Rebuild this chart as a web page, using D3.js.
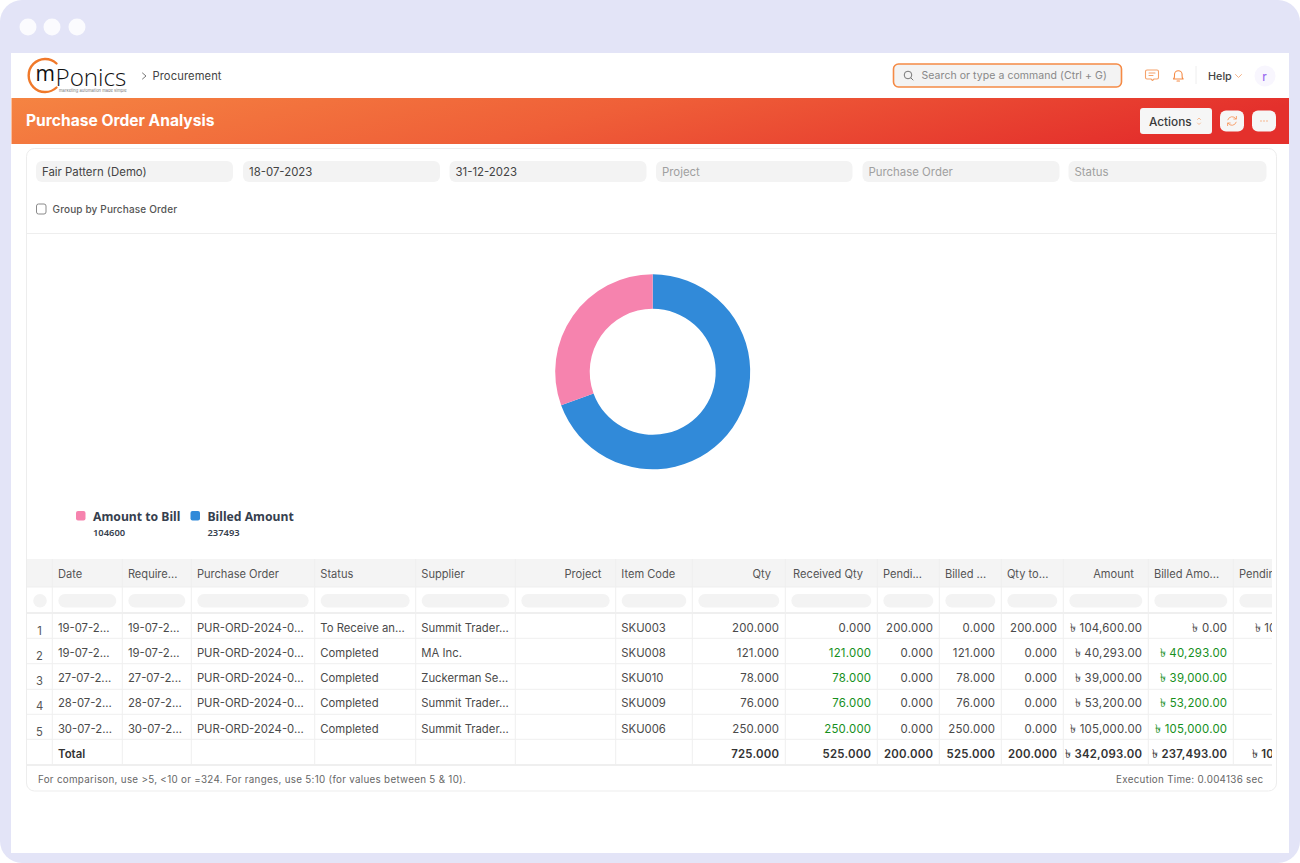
<!DOCTYPE html>
<html><head><meta charset="utf-8">
<script src="https://cdn.jsdelivr.net/npm/d3@7"></script>
<style>html,body{margin:0;padding:0;background:#fff;overflow:hidden}svg{display:block}text{font-family:Inter,"Noto Sans",sans-serif}</style>
</head><body><svg id="c" width="1300" height="863"></svg>
<script>
// ---- data ----
const legendLabels = ["Amount to Bill", "Billed Amount"];
const legendValues = [104600, 237493];
const pieColors = ["#f683ae", "#318ad9"];
const filterTexts = ["Fair Pattern (Demo)", "18-07-2023", "31-12-2023", "Project", "Purchase Order", "Status"];
const headers = ["", "Date", "Require...", "Purchase Order", "Status", "Supplier", "Project", "Item Code", "Qty", "Received Qty", "Pendi...", "Billed ...", "Qty to...", "Amount", "Billed Amo...", "Pendin"];
const rowIds = ["1", "2", "3", "4", "5"];
const dates = ["19-07-2...", "19-07-2...", "27-07-2...", "28-07-2...", "30-07-2..."];
const required = ["19-07-2...", "19-07-2...", "27-07-2...", "28-07-2...", "30-07-2..."];
const orders = ["PUR-ORD-2024-0...", "PUR-ORD-2024-0...", "PUR-ORD-2024-0...", "PUR-ORD-2024-0...", "PUR-ORD-2024-0..."];
const statuses = ["To Receive an...", "Completed", "Completed", "Completed", "Completed"];
const suppliers = ["Summit Trader...", "MA Inc.", "Zuckerman Se...", "Summit Trader...", "Summit Trader..."];
const projects = ["", "", "", "", ""];
const items = ["SKU003", "SKU008", "SKU010", "SKU009", "SKU006"];
const qty = [200, 121, 78, 76, 250];
const receivedQty = [0, 121, 78, 76, 250];
const pendingQty = [200, 0, 0, 0, 0];
const billedQty = [0, 121, 78, 76, 250];
const qtyToBill = [200, 0, 0, 0, 0];
const amount = [104600, 40293, 39000, 53200, 105000];
const billedAmount = [0, 40293, 39000, 53200, 105000];
const pendingAmount = [104600, 0, 0, 0, 0];
const totalsQty = [725, 525, 200, 525, 200];
const totalsAmount = [342093, 237493, 104600];

// ---- layout ----
const svg = d3.select("#c");
const defs = svg.append("defs");
const grad = defs.append("linearGradient").attr("id","banner").attr("x1","0").attr("x2","1").attr("y1","0").attr("y2","0.15");
grad.append("stop").attr("offset","0").attr("stop-color","#f58442");
grad.append("stop").attr("offset","0.5").attr("stop-color","#ef5f38");
grad.append("stop").attr("offset","1").attr("stop-color","#e4302c");
defs.append("clipPath").attr("id","tbl").append("rect").attr("x",27).attr("y",559).attr("width",1245).attr("height",207);

function rect(x,y,w,h,fill,r,stroke,sw){const s=svg.append("rect").attr("x",x).attr("y",y).attr("width",w).attr("height",h).attr("fill",fill||"none");if(r)s.attr("rx",r);if(stroke)s.attr("stroke",stroke).attr("stroke-width",sw||1);return s;}
function text(x,y,t,size,fill,weight,anchor,parent){return (parent||svg).append("text").attr("x",x).attr("y",y).text(t).attr("font-size",size).attr("fill",fill).attr("font-weight",weight||400).attr("text-anchor",anchor||"start");}
function line(x1,y1,x2,y2,c,w,parent){return (parent||svg).append("line").attr("x1",x1).attr("y1",y1).attr("x2",x2).attr("y2",y2).attr("stroke",c).attr("stroke-width",w||1);}
function path(d,c,w,fill){return svg.append("path").attr("d",d).attr("fill",fill||"none").attr("stroke",c).attr("stroke-width",w||1).attr("stroke-linecap","round").attr("stroke-linejoin","round");}

// window frame
rect(0,0,1300,863,"#e3e4f7",22);
[28,52,77].forEach(x=>svg.append("circle").attr("cx",x).attr("cy",27).attr("r",8.5).attr("fill","#fbfbfe"));
rect(11,53,1278,800,"#fff");

// navbar
path("M56.5,63.5 A16.5,16.5 0 1 0 56.5,87.5","#f0792a",2.4);
text(35.5,81,"m",21,"#111",400).style("font-family","'Open Sans'");
text(55.5,86,"Ponics",24.2,"#111",300).style("font-family","'Open Sans'");
text(59,91.6,"marketing automation made simple",4.1,"#777",400);
path("M142.5,73 L146,76 L142.5,79","#777",1);
text(152.5,80,"Procurement",11.2,"#444",400).attr("letter-spacing",0.1);
rect(893.5,64,228,23,"#f3f3f3",5,"#f58a45",1.6);
svg.append("circle").attr("cx",908).attr("cy",75).attr("r",3.8).attr("fill","none").attr("stroke","#777").attr("stroke-width",1);
path("M911,78 L913,80","#777",1);
text(921.5,79,"Search or type a command (Ctrl + G)",10.5,"#888",400).attr("letter-spacing",0.06);
path("M1147,70 h10 a1.5,1.5 0 0 1 1.5,1.5 v6 a1.5,1.5 0 0 1 -1.5,1.5 h-3 l-1.5,1.5 l-1.5,-1.5 h-4 a1.5,1.5 0 0 1 -1.5,-1.5 v-6 a1.5,1.5 0 0 1 1.5,-1.5 z M1149,73 h6 M1149,75.5 h4","#f5a26a",1.1);
path("M1173.5,79 c1.5,-1.5 1,-3 1,-4.5 a3.8,3.8 0 0 1 7.6,0 c0,1.5 -0.5,3 1,4.5 z M1177,81 h2.5","#f58a45",1.1);
line(1196,66,1196,84,"#eeeeee",1);
text(1208,79.5,"Help",10.8,"#444",500);
path("M1235.5,74.5 L1238.5,77.5 L1241.5,74.5","#f5b48a",1);
svg.append("circle").attr("cx",1265).attr("cy",76).attr("r",10.5).attr("fill","#f8f6fe");
text(1264.5,80.5,"r",11.5,"#9a6cf0",500,"middle");

// banner
rect(11.5,98,1277.5,46,"url(#banner)");
text(26,126,"Purchase Order Analysis",15.6,"#fff",700);
rect(1140,108,72,26,"#f6f6f6",3);
text(1149,125.5,"Actions",11.8,"#3a3a3a",500);
path("M1197.5,119.5 L1199,118 L1200.5,119.5 M1197.5,123 L1199,124.5 L1200.5,123","#f5b48a",0.9);
rect(1220,110.5,24,21,"#f6f6f6",6);
path("M1227.8,119.8 a4.6,4.6 0 0 1 8.2,-1 M1236.2,122.2 a4.6,4.6 0 0 1 -8.2,1 M1236.4,116.4 v2.6 h-2.6 M1227.6,125.6 v-2.6 h2.6","#f79a62",0.9);
rect(1252,110.5,24,21,"#f6f6f6",6);
[1261,1264,1267].forEach(x=>svg.append("circle").attr("cx",x).attr("cy",121).attr("r",0.7).attr("fill","#f5a26a"));

// card
rect(26.5,148.5,1250,642.5,"#fff",8,"#ededed",1);
const fx = [36,243,449.5,656,862.5,1068.5], fw = [197,197,197,196.5,197,198];
filterTexts.forEach((t,i)=>{
  rect(fx[i],161,fw[i],21,"#f3f3f3",6);
  text(fx[i]+6,176,t,11.4,i<3?"#444":"#a0a0a0",400);
});
rect(36.5,204,9.5,10,"#fff",2,"#8a8a8a",1);
text(52.5,212.5,"Group by Purchase Order",10,"#555",500).attr("letter-spacing",0.15);
line(27,233.5,1276,233.5,"#eeeeee",1);

// donut
const pieOrder = [1,0];
const pie = d3.pie().sort(null).value(i=>legendValues[i])(pieOrder);
const arc = d3.arc().innerRadius(63).outerRadius(97.5);
svg.append("g").attr("transform","translate(652.7,371.8)").selectAll("path").data(pie).join("path")
  .attr("d",arc).attr("fill",d=>pieColors[d.data]);

// legend
const lx = d3.scaleOrdinal().domain(legendLabels).range([76,190.5]);
legendLabels.forEach((l,i)=>{
  const x = lx(l);
  rect(x,511,9.5,9.5,pieColors[i],2);
  text(x+17,520.5,l,12.2,"#36404e",700).style("font-family","'Noto Sans'");
  text(x+17,536,d3.format("d")(legendValues[i]),9.4,"#36404e",600).style("font-family","'Noto Sans'");
});

// table
const colEdges = [27,52.3,122.3,191.3,314.7,415.7,515.3,615.7,692.3,785.3,877.3,939.3,1001.3,1063.3,1148.3,1233.3,1333];
const headerAnchors = ["","s","s","s","s","s","e","s","e","e","s","s","s","e","s","s"];
const rowEdges = [613,638.3,663.7,689.3,714.3,739.3,765];
const fq = d3.format(",.3f"), fa = d3.format(",.2f");
const g = svg.append("g").attr("clip-path","url(#tbl)");
g.append("rect").attr("x",27).attr("y",559).attr("width",1245).attr("height",28).attr("fill","#f4f4f4");
rowEdges.forEach((y,i)=>line(27,y,1272,y,"#efefef",i===0||i===6?2:1,g));
line(27,587,1272,587,"#efefef",1,g);
colEdges.slice(1,-1).forEach(x=>line(x,559,x,765,"#efefef",1,g));
// header + filter pills
headers.forEach((h,i)=>{
  if(i===0){g.append("circle").attr("cx",40).attr("cy",600.7).attr("r",6.8).attr("fill","#f3f3f3");return;}
  const a=colEdges[i],b=colEdges[i+1];
  if(headerAnchors[i]==="e") text(b-14.3,578,h,11.1,"#555",400,"end",g);
  else text(a+5.6,578,h,11.1,"#555",400,"start",g);
  g.append("rect").attr("x",a+6).attr("y",594).attr("width",b-a-12).attr("height",13.5).attr("rx",6.7).attr("fill","#f3f3f3");
});
// money text: a larger taka sign, a thin gap, then the figure
function money(x,y,v,fill,weight,parent){
  const t = text(x,y,"",11.4,fill,weight,"end",parent).attr("letter-spacing",0.25);
  t.append("tspan").attr("font-size",12).attr("font-weight",400).text("\u09F3");
  t.append("tspan").text("\u00A0"+fa(v));
  return t;
}
// cells
const cols = [dates,required,orders,statuses,suppliers,projects,items];
const qtyCols = [[qty,null],[receivedQty,"g"],[pendingQty,null],[billedQty,null],[qtyToBill,null]];
const amtCols = [[amount,null],[billedAmount,"g"],[pendingAmount,null]];
const textFill="#4a4a4a", green="#168f1c", bold="#333";
const rowY = d3.scaleBand().domain(rowIds).range([613,739.3]);
rowIds.forEach((id,r)=>{
  const y = rowY(id)+18.5;
  text(39.5,y+3,id,11.2,"#555",400,"middle",g);
  cols.forEach((c,j)=>text(colEdges[j+1]+5.6,y,c[r],11.3,textFill,400,"start",g));
  qtyCols.forEach(([c,k],j)=>{
    text(colEdges[j+9]-6,y,fq(c[r]),11.4,k&&c[r]>0?green:textFill,400,"end",g).attr("letter-spacing",0.25);
  });
  amtCols.forEach(([c,k],j)=>{
    if(j===2 && c[r]===0) return;
    money(colEdges[j+14]-6,y,c[r],k&&c[r]>0?green:textFill,400,g);
  });
});
const ty = 757.5;
text(58,ty,"Total",11.4,bold,600,"start",g);
totalsQty.forEach((v,j)=>text(colEdges[j+9]-6,ty,fq(v),11.4,bold,600,"end",g).attr("letter-spacing",0.25));
totalsAmount.forEach((v,j)=>money(colEdges[j+14]-6,ty,v,bold,600,g));

// footer
text(38,783,"For comparison, use >5, <10 or =324. For ranges, use 5:10 (for values between 5 & 10).",9.8,"#666",400).attr("letter-spacing",0.3);
text(1263.5,783,"Execution Time: 0.004136 sec",9.8,"#666",400,"end").attr("letter-spacing",0.3);
</script></body></html>
